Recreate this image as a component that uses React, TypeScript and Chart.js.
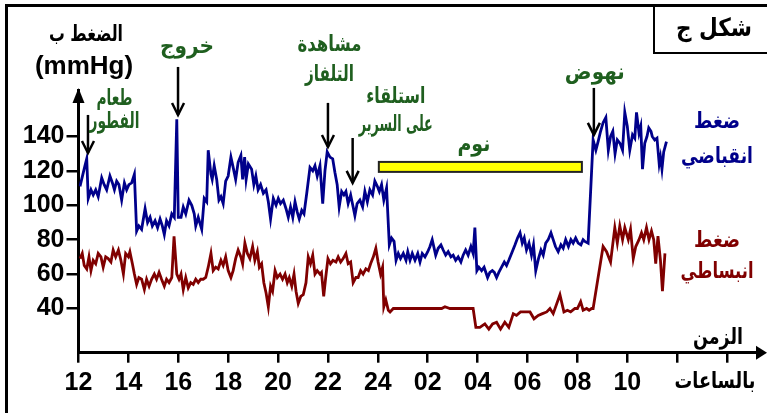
import { useEffect, useRef } from 'react';
import { Chart, registerables } from 'chart.js';

Chart.register(...registerables);

// Hours counted from 12:00 (0 = 12h, 12 = 24h, 14 = 02h ...)
const sysHours = [0.06, 0.26, 0.33, 0.39, 0.5, 0.59, 0.69, 0.79, 0.93, 1.03, 1.13, 1.26, 1.36, 1.44, 1.53, 1.62, 1.73, 1.84, 1.93, 2.02, 2.13, 2.24, 2.33, 2.42, 2.53, 2.67, 2.77, 2.87, 2.96, 3.07, 3.17, 3.27, 3.36, 3.44, 3.53, 3.63, 3.74, 3.84, 3.94, 4.0, 4.11, 4.2, 4.3, 4.43, 4.54, 4.64, 4.7, 4.8, 4.94, 5.04, 5.14, 5.2, 5.31, 5.36, 5.44, 5.54, 5.63, 5.71, 5.8, 5.9, 6.0, 6.11, 6.2, 6.3, 6.4, 6.51, 6.58, 6.66, 6.72, 6.81, 6.94, 7.03, 7.11, 7.2, 7.3, 7.41, 7.52, 7.61, 7.7, 7.81, 7.92, 8.01, 8.1, 8.21, 8.32, 8.41, 8.5, 8.59, 8.68, 8.77, 8.85, 8.95, 9.04, 9.15, 9.28, 9.39, 9.48, 9.57, 9.68, 9.79, 9.88, 9.97, 10.08, 10.19, 10.28, 10.37, 10.45, 10.55, 10.64, 10.72, 10.81, 10.91, 11.01, 11.08, 11.17, 11.28, 11.39, 11.48, 11.58, 11.68, 11.79, 11.88, 11.98, 12.06, 12.15, 12.24, 12.35, 12.46, 12.55, 12.65, 12.73, 12.82, 12.91, 13.02, 13.13, 13.2, 13.29, 13.38, 13.49, 13.6, 13.69, 13.78, 13.89, 14.0, 14.09, 14.18, 14.32, 14.42, 14.53, 14.62, 14.72, 14.82, 14.93, 15.02, 15.12, 15.22, 15.33, 15.42, 15.52, 15.62, 15.73, 15.82, 15.89, 15.97, 16.05, 16.16, 16.26, 16.4, 16.49, 16.59, 16.67, 16.76, 16.85, 16.96, 17.07, 17.16, 17.25, 17.36, 17.5, 17.6, 17.7, 17.79, 17.87, 17.96, 18.06, 18.16, 18.24, 18.33, 18.44, 18.54, 18.63, 18.73, 18.83, 18.94, 19.03, 19.12, 19.23, 19.34, 19.43, 19.53, 19.64, 19.74, 19.83, 19.93, 20.03, 20.14, 20.23, 20.3, 20.43, 20.63, 20.74, 20.83, 20.93, 21.03, 21.14, 21.24, 21.33, 21.42, 21.51, 21.6, 21.71, 21.81, 21.9, 22.0, 22.1, 22.21, 22.3, 22.37, 22.47, 22.54, 22.61, 22.7, 22.79, 22.86, 22.95, 23.0, 23.1, 23.19, 23.28, 23.33, 23.39, 23.46, 23.57];
const sysValues = [111, 123, 127, 104, 109, 106, 109, 105, 116, 112, 109, 117, 113, 109, 114, 112, 103, 113, 109, 112, 113, 118, 85, 88, 86, 98, 90, 93, 88, 91, 87, 92, 88, 83, 91, 88, 95, 93, 150, 93, 93, 99, 95, 103, 100, 95, 88, 93, 86, 104, 102, 132, 118, 115, 123, 115, 103, 105, 101, 114, 117, 128, 122, 115, 125, 129, 115, 128, 115, 124, 121, 112, 117, 109, 112, 107, 109, 102, 92, 104, 100, 104, 101, 103, 98, 93, 99, 93, 102, 96, 92, 97, 95, 107, 122, 120, 123, 117, 123, 101, 120, 131, 128, 127, 119, 112, 99, 108, 106, 108, 101, 106, 99, 94, 101, 103, 99, 108, 102, 109, 106, 114, 111, 108, 112, 103, 110, 77, 81, 79, 68, 72, 69, 72, 68, 73, 68, 72, 68, 72, 67, 72, 70, 73, 76, 80, 71, 75, 77, 74, 71, 73, 70, 71, 68, 70, 67, 71, 74, 71, 76, 72, 87, 62, 64, 62, 64, 58, 61, 62, 61, 58, 61, 64, 67, 65, 68, 72, 77, 81, 84, 78, 81, 74, 78, 71, 77, 62, 69, 74, 71, 78, 80, 84, 80, 76, 73, 77, 75, 80, 76, 80, 78, 81, 78, 77, 80, 79, 78, 138, 132, 137, 143, 148, 151, 132, 140, 143, 130, 138, 136, 132, 154, 146, 132, 141, 139, 154, 142, 146, 121, 136, 140, 145, 143, 140, 138, 139, 124, 128, 121, 131, 137];

const diaHours = [0.06, 0.15, 0.23, 0.33, 0.42, 0.5, 0.59, 0.69, 0.79, 0.9, 0.99, 1.09, 1.19, 1.3, 1.39, 1.49, 1.6, 1.7, 1.8, 1.89, 2.0, 2.06, 2.16, 2.24, 2.33, 2.42, 2.53, 2.64, 2.73, 2.83, 2.93, 3.04, 3.13, 3.23, 3.33, 3.44, 3.53, 3.63, 3.74, 3.83, 3.94, 4.03, 4.11, 4.2, 4.3, 4.4, 4.5, 4.6, 4.7, 4.8, 4.9, 5.0, 5.1, 5.2, 5.31, 5.4, 5.5, 5.6, 5.71, 5.8, 5.9, 6.0, 6.11, 6.2, 6.3, 6.4, 6.51, 6.58, 6.67, 6.77, 6.87, 6.98, 7.07, 7.17, 7.25, 7.34, 7.43, 7.52, 7.61, 7.7, 7.78, 7.88, 7.97, 8.08, 8.18, 8.28, 8.37, 8.45, 8.55, 8.64, 8.72, 8.81, 8.91, 9.01, 9.12, 9.21, 9.3, 9.39, 9.48, 9.57, 9.68, 9.74, 9.83, 9.91, 10.0, 10.1, 10.2, 10.32, 10.41, 10.51, 10.61, 10.72, 10.81, 10.91, 11.01, 11.12, 11.21, 11.31, 11.41, 11.52, 11.62, 11.71, 11.82, 11.92, 12.01, 12.11, 12.19, 12.24, 12.32, 12.42, 12.49, 12.62, 14.56, 14.69, 14.89, 15.82, 15.93, 16.09, 16.29, 16.45, 16.6, 16.76, 16.92, 17.09, 17.25, 17.43, 17.56, 17.72, 18.1, 18.26, 18.43, 18.6, 18.77, 18.9, 19.03, 19.3, 19.46, 19.6, 19.73, 19.9, 20.0, 20.13, 20.23, 20.37, 20.47, 20.57, 20.63, 21.03, 21.17, 21.33, 21.5, 21.6, 21.7, 21.81, 21.9, 22.04, 22.13, 22.24, 22.34, 22.47, 22.57, 22.66, 22.77, 22.87, 22.97, 23.06, 23.14, 23.23, 23.33, 23.41, 23.51];
const diaValues = [69, 72, 65, 63, 70, 62, 68, 66, 72, 70, 64, 70, 69, 67, 74, 70, 74, 68, 60, 72, 70, 73, 66, 60, 54, 58, 57, 51, 57, 53, 57, 60, 57, 61, 57, 53, 57, 55, 58, 82, 60, 57, 60, 51, 58, 52, 55, 54, 57, 55, 57, 57, 58, 64, 72, 62, 64, 63, 68, 65, 70, 62, 58, 62, 69, 74, 70, 66, 78, 72, 69, 76, 68, 73, 64, 66, 55, 49, 41, 53, 50, 62, 58, 60, 57, 60, 55, 58, 53, 60, 50, 43, 47, 48, 55, 70, 66, 71, 60, 62, 60, 61, 47, 58, 69, 66, 68, 67, 70, 67, 69, 72, 66, 67, 55, 58, 58, 62, 60, 63, 62, 66, 70, 75, 67, 60, 64, 41, 45, 39, 38, 40, 40, 41, 40, 40, 29, 29, 31, 28, 31, 32, 28, 32, 29, 37, 36, 38, 38, 34, 36, 37, 38, 40, 37, 48, 38, 39, 38, 40, 40, 44, 39, 40, 39, 40, 40, 76, 73, 67, 87, 78, 88, 80, 87, 80, 86, 69, 76, 80, 84, 80, 87, 80, 85, 80, 66, 82, 68, 50, 72];

const xTickHours = [0, 2, 4, 6, 8, 10, 12, 14, 16, 18, 20, 22, 24, 26];
const xTickLabels = ['12', '14', '16', '18', '20', '22', '24', '02', '04', '06', '08', '10', '', ''];
const yTickValues = [40, 60, 80, 100, 120, 140];

// Event notes (hour position, mmHg position of each text line, width of each line)
const noteTexts = [['طعام', 'الفطور'], ['خروج'], ['مشاهدة', 'التلفاز'], ['استلقاء', 'على السرير'], ['نوم'], ['نهوض']];
const noteHours = [1.44, 4.35, 10.06, 12.72, 15.85, 20.7];
const noteLevels = [[161.8, 148.4], [192], [193.2, 175.8], [163, 146.7], [135], [176.9]];
const noteWidths = [[36, 50], [54], [64, 49], [59, 74], [33], [60]];
// Arrows: hour, start level, end (tip) level
const arrowHours = [0.38, 3.99, 10.0, 10.99, 20.66];
const arrowFrom = [152.5, 180.4, 159.5, 139.1, 168.2];
const arrowTo = [130.4, 152.5, 133.9, 113.0, 140.9];
// Sleep bar
const sleepStart = 12.04;
const sleepEnd = 20.18;
const sleepLow = 119.4;
const sleepHigh = 125.2;

const BLUE = '#00008b';
const RED = '#800000';
const GREEN = '#1f5f1f';
const LATIN = '"Liberation Sans", Arial, sans-serif';
const ARABIC = '"DejaVu Sans", "Liberation Sans", sans-serif';

const decor = {
  id: 'decor',
  afterDraw(chart: any) {
    const { ctx, chartArea } = chart;
    const xs = chart.scales.x;
    const ys = chart.scales.y;
    const X = (h: number) => xs.getPixelForValue(h);
    const Y = (v: number) => ys.getPixelForValue(v);
    ctx.save();

    // outer frame and figure label box
    ctx.strokeStyle = '#000';
    ctx.lineWidth = 3;
    ctx.strokeRect(6.5, 5.5, 800, 450);
    ctx.lineWidth = 2;
    ctx.strokeRect(654, 5.5, 150, 47.5);

    // axis arrow heads
    ctx.fillStyle = '#000';
    ctx.beginPath();
    ctx.moveTo(chartArea.left, chartArea.top - 2);
    ctx.lineTo(chartArea.left - 6, chartArea.top + 13);
    ctx.lineTo(chartArea.left + 6, chartArea.top + 13);
    ctx.closePath();
    ctx.fill();
    ctx.beginPath();
    ctx.moveTo(chartArea.right + 10, chartArea.bottom);
    ctx.lineTo(chartArea.right - 1, chartArea.bottom - 7);
    ctx.lineTo(chartArea.right - 1, chartArea.bottom + 7);
    ctx.closePath();
    ctx.fill();

    // sleep bar
    const bx = X(sleepStart), bw = X(sleepEnd) - bx;
    const by = Y(sleepHigh), bh = Y(sleepLow) - by;
    ctx.fillStyle = '#ffff00';
    ctx.fillRect(bx, by, bw, bh);
    ctx.strokeStyle = '#222';
    ctx.lineWidth = 2;
    ctx.strokeRect(bx, by, bw, bh);

    // arrows
    ctx.strokeStyle = '#000';
    ctx.lineWidth = 2.5;
    arrowHours.forEach((h, i) => {
      const ax = X(h), y1 = Y(arrowFrom[i]), y2 = Y(arrowTo[i]);
      ctx.beginPath();
      ctx.moveTo(ax, y1);
      ctx.lineTo(ax, y2);
      ctx.stroke();
      ctx.beginPath();
      ctx.moveTo(ax - 6, y2 - 12);
      ctx.lineTo(ax, y2);
      ctx.lineTo(ax + 6, y2 - 12);
      ctx.stroke();
    });

    ctx.textAlign = 'center';
    ctx.textBaseline = 'middle';

    // event notes
    ctx.fillStyle = GREEN;
    ctx.font = `bold 22px ${ARABIC}`;
    noteTexts.forEach((lines, i) => {
      lines.forEach((t, j) => ctx.fillText(t, X(noteHours[i]), Y(noteLevels[i][j]), noteWidths[i][j]));
    });

    // series labels
    ctx.font = `bold 22px ${ARABIC}`;
    ctx.fillStyle = BLUE;
    ctx.fillText('ضغط', 717, 122, 46);
    ctx.fillText('انقباضي', 717, 157, 72);
    ctx.fillStyle = RED;
    ctx.fillText('ضغط', 717, 241, 46);
    ctx.fillText('انبساطي', 717, 272, 73);

    // axis titles
    ctx.fillStyle = '#000';
    ctx.font = `bold 22px ${ARABIC}`;
    ctx.fillText('الزمن', 718, 338, 50);
    ctx.fillText('بالساعات', 715, 382, 81);
    ctx.fillText('الضغط ب', 86, 35, 74);
    ctx.font = `bold 26px ${LATIN}`;
    ctx.fillText('(mmHg)', 84, 67);
    ctx.font = `bold 25px ${ARABIC}`;
    ctx.fillText('شكل ج', 714, 29, 76);

    ctx.restore();
  },
};

export default function App() {
  const ref = useRef<HTMLCanvasElement>(null);
  useEffect(() => {
    const canvas = ref.current;
    if (!canvas) return;
    const tickFont = { family: LATIN, size: 25, weight: 'bold' as const };
    const chart = new Chart(canvas, {
      type: 'line',
      data: {
        datasets: [
          {
            data: sysHours.map((h, i) => ({ x: h, y: sysValues[i] })),
            borderColor: BLUE,
            borderWidth: 2.8,
            pointRadius: 0,
            tension: 0,
          },
          {
            data: diaHours.map((h, i) => ({ x: h, y: diaValues[i] })),
            borderColor: RED,
            borderWidth: 2.8,
            pointRadius: 0,
            tension: 0,
          },
        ],
      },
      options: {
        responsive: false,
        animation: false,
        layout: { padding: { left: 0, top: 90, right: 10, bottom: 0 } },
        plugins: { legend: { display: false }, tooltip: { enabled: false } },
        scales: {
          x: {
            type: 'linear',
            min: 0,
            max: 27.2,
            afterBuildTicks: (s: any) => {
              s.ticks = xTickHours.map((v) => ({ value: v }));
            },
            afterFit: (s: any) => {
              s.height = 60.3;
            },
            ticks: {
              callback: (_v: any, i: number) => xTickLabels[i],
              font: tickFont,
              color: '#000',
              padding: 5,
              maxRotation: 0,
              autoSkip: false,
            },
            grid: { drawOnChartArea: false, tickLength: 10, color: '#000', lineWidth: 2.5 },
            border: { color: '#000', width: 3 },
          },
          y: {
            type: 'linear',
            min: 14.3,
            max: 167,
            afterBuildTicks: (s: any) => {
              s.ticks = yTickValues.map((v) => ({ value: v }));
            },
            afterFit: (s: any) => {
              s.width = 78.5;
            },
            ticks: { font: tickFont, color: '#000', padding: 2 },
            grid: { drawOnChartArea: false, tickLength: 12, color: '#000', lineWidth: 2.5 },
            border: { color: '#000', width: 3 },
          },
        },
      },
      plugins: [decor],
    });
    return () => chart.destroy();
  }, []);
  return (
    <div style={{ position: 'absolute', left: 0, top: 0, width: 767, height: 413, background: '#fff' }}>
      <canvas ref={ref} width={767} height={413} style={{ display: 'block' }} />
    </div>
  );
}
